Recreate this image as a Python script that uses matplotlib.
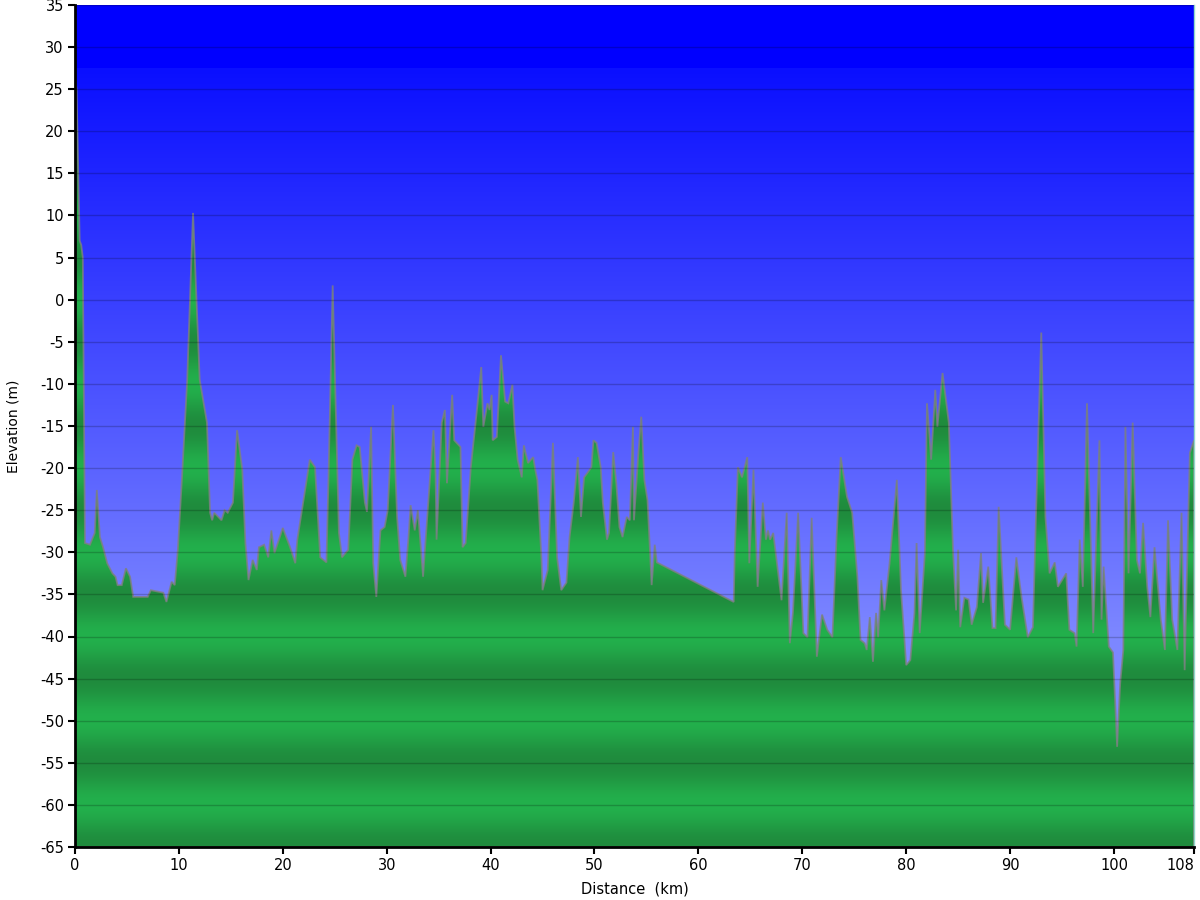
import numpy as np
import matplotlib
matplotlib.use("Agg")
import matplotlib.pyplot as plt
from matplotlib.patches import Polygon

plt.rcParams["axes.unicode_minus"] = False

# elevation profile
dist_km = [
    0.0, 0.15, 0.45, 0.6, 0.75, 0.96, 1.44, 1.9, 2.1, 2.4, 2.7, 3.1, 3.6, 3.9, 4.1, 4.5, 4.9,
    5.3, 5.6, 7.0, 7.3, 8.5, 8.8, 9.3, 9.6, 9.9, 10.3, 10.8, 11.36, 12.0, 12.7, 13.0, 13.2,
    13.4, 14.1, 14.4, 14.7, 15.2, 15.6, 16.1, 16.4, 16.7, 17.1, 17.5, 17.7, 18.2, 18.6, 18.9,
    19.2, 20.0, 20.7, 21.2, 21.4, 22.6, 23.1, 23.6, 24.2, 24.4, 24.8, 25.4, 25.7, 26.3, 26.7,
    27.1, 27.4, 27.9, 28.1, 28.5, 28.7, 29.0, 29.4, 29.8, 30.1, 30.6, 31.0, 31.3, 31.8, 32.1,
    32.3, 32.7, 33.0, 33.5, 34.2, 34.5, 34.7, 34.8, 35.3, 35.6, 35.8, 36.3, 36.5, 37.1, 37.3,
    37.6, 38.1, 38.7, 39.1, 39.3, 39.7, 39.9, 40.1, 40.2, 40.6, 41.0, 41.4, 41.7, 42.1, 42.3,
    42.6, 43.0, 43.2, 43.6, 44.1, 44.3, 44.5, 44.9, 45.0, 45.5, 46.0, 46.4, 46.8, 47.3, 47.6,
    48.0, 48.4, 48.7, 49.0, 49.3, 49.7, 49.9, 50.2, 50.6, 50.8, 51.2, 51.4, 51.8, 52.1, 52.4,
    52.7, 53.1, 53.4, 53.7, 53.8, 54.2, 54.5, 54.8, 55.1, 55.5, 55.8, 56.0, 63.4, 63.5, 63.8,
    64.2, 64.7, 64.9, 65.3, 65.7, 66.2, 66.5, 66.7, 66.9, 67.2, 68.0, 68.5, 68.8, 69.1, 69.6,
    70.1, 70.5, 70.9, 71.4, 71.9, 72.4, 72.9, 73.3, 73.7, 74.3, 74.8, 75.3, 75.6, 76.0, 76.2,
    76.5, 76.8, 77.1, 77.3, 77.6, 77.9, 78.4, 79.1, 79.5, 80.0, 80.4, 80.8, 81.0, 81.3, 81.8,
    82.0, 82.4, 82.8, 83.0, 83.5, 84.1, 84.5, 84.8, 85.0, 85.2, 85.6, 86.0, 86.3, 86.8, 87.2,
    87.4, 87.9, 88.3, 88.6, 88.9, 89.5, 90.0, 90.6, 91.1, 91.7, 92.2, 92.5, 93.0, 93.4, 93.8,
    94.3, 94.6, 95.4, 95.7, 96.2, 96.4, 96.7, 97.0, 97.4, 98.0, 98.6, 98.8, 99.0, 99.5, 99.9,
    100.3, 100.6, 100.9, 101.1, 101.4, 101.8, 102.2, 102.5, 102.8, 103.2, 103.5, 103.9, 104.5,
    104.9, 105.2, 105.6, 106.1, 106.5, 106.8, 107.3, 107.7,
]
elev_m = [
    26.5, 25.0, 7.0, 6.5, 5.0, -28.9, -29.1, -27.7, -22.6, -28.2, -29.4, -31.3, -32.5, -32.9,
    -33.9, -33.9, -31.9, -32.9, -35.3, -35.3, -34.5, -34.8, -35.9, -33.5, -33.9, -29.7, -21.1,
    -9.5, 10.3, -9.5, -14.6, -25.3, -26.2, -25.3, -26.2, -25.0, -25.3, -24.1, -15.5, -20.2,
    -28.9, -33.3, -30.9, -32.1, -29.4, -29.1, -30.6, -27.4, -30.1, -27.1, -29.4, -31.3, -28.5,
    -19.0, -19.9, -30.6, -31.2, -21.1, 1.7, -27.7, -30.6, -29.7, -19.0, -17.3, -17.5, -24.1,
    -25.2, -15.1, -31.3, -35.3, -27.4, -27.0, -25.0, -12.5, -25.8, -30.9, -32.9, -28.2, -24.4,
    -27.4, -25.0, -32.9, -20.6, -15.5, -20.6, -28.5, -14.6, -13.1, -21.8, -11.3, -16.7, -17.5,
    -29.4, -28.9, -19.9, -12.9, -8.0, -15.1, -12.3, -13.1, -11.3, -16.7, -16.3, -6.6, -12.1,
    -12.3, -10.1, -15.1, -19.0, -21.1, -17.3, -19.4, -18.7, -20.2, -21.4, -30.9, -34.5, -32.1,
    -17.0, -30.6, -34.5, -33.6, -28.2, -24.1, -18.7, -25.8, -21.1, -20.6, -19.9, -16.7, -17.0,
    -19.9, -24.1, -28.5, -27.7, -18.1, -21.8, -27.0, -28.2, -25.8, -26.2, -15.1, -26.2, -18.7,
    -13.9, -21.4, -23.8, -33.9, -29.1, -31.2, -35.9, -30.1, -19.9, -21.1, -18.7, -31.3, -20.2,
    -34.1, -24.1, -28.5, -27.4, -28.5, -27.7, -35.7, -25.3, -40.8, -37.2, -25.3, -39.6, -40.1,
    -25.9, -42.4, -37.4, -39.2, -40.1, -28.2, -18.7, -23.4, -25.3, -32.9, -40.4, -40.8, -41.6,
    -37.7, -43.0, -37.2, -40.1, -33.3, -36.9, -31.3, -21.4, -34.5, -43.4, -42.8, -37.2, -28.9,
    -39.6, -30.1, -12.3, -19.0, -10.7, -15.1, -8.7, -14.6, -29.7, -36.9, -29.7, -38.9, -35.4,
    -35.6, -38.6, -36.5, -30.1, -36.0, -31.7, -39.0, -39.0, -24.6, -38.6, -39.2, -30.6, -35.3,
    -40.1, -38.9, -25.3, -3.9, -25.8, -32.5, -31.2, -34.1, -32.5, -39.2, -39.6, -41.2, -28.5,
    -34.1, -12.3, -39.6, -16.7, -38.0, -31.7, -41.2, -41.9, -53.1, -45.5, -41.6, -15.1, -32.5,
    -14.6, -30.9, -32.5, -26.5, -34.1, -37.7, -29.4, -38.0, -41.6, -26.2, -38.0, -41.6, -25.3,
    -44.0, -18.2, -16.7,
]

y_min, y_max = -65, 35
x_max = dist_km[-1]
x_ticks = [0, 10, 20, 30, 40, 50, 60, 70, 80, 90, 100, x_max]
x_tick_labels = ["0", "10", "20", "30", "40", "50", "60", "70", "80", "90", "100", "108"]
y_ticks = list(range(-65, 40, 5))

fig = plt.figure(figsize=(12, 9), dpi=100)
ax = fig.add_axes([75 / 1200, 53 / 900, 1119 / 1200, 842 / 900])

# blue sky gradient: flat blue at the top, lighter further down
yy = np.linspace(y_max, y_min, 600)
top = np.array([10, 15, 255]) / 255
bot = np.array([125, 135, 255]) / 255
frac = np.clip((27.5 - yy) / (27.5 + 40), 0, 1)[:, None]
sky = top + (bot - top) * frac
sky[yy > 27.5] = [0, 0, 1]
ax.imshow(sky[:, None, :], extent=[0, x_max, y_min, y_max], aspect="auto",
          interpolation="nearest", zorder=0)

# banded green, bright on every 10 m and darker in between
band = (1 + np.cos(2 * np.pi * yy / 10)) / 2
bright = np.array([35, 176, 76]) / 255
dark = np.array([31, 139, 61]) / 255
green = dark + (bright - dark) * band[:, None]
im = ax.imshow(green[:, None, :], extent=[0, x_max, y_min, y_max], aspect="auto",
               interpolation="bilinear", zorder=1)

verts = list(zip(dist_km, elev_m)) + [(x_max, y_min), (0, y_min)]
poly = Polygon(verts, closed=True, facecolor="none", edgecolor=(0.5, 0.5, 0.5, 0.8),
               linewidth=1.3, transform=ax.transData, zorder=2)
ax.add_patch(poly)
im.set_clip_path(poly)

for y in y_ticks:
    ax.axhline(y, color="black", alpha=0.2, linewidth=1, zorder=3)

ax.set_xlim(0, x_max)
ax.set_ylim(y_min, y_max)
ax.set_xticks(x_ticks)
ax.set_xticklabels(x_tick_labels)
ax.set_yticks(y_ticks)
ax.tick_params(direction="out", length=5, width=1.5, labelsize=10.5, colors="black", pad=3)
ax.get_xticklabels()[-1].set_horizontalalignment("right")
ax.spines["top"].set_visible(False)
ax.spines["right"].set_color("#8fd8c8")
ax.spines["right"].set_linewidth(1)
ax.spines["left"].set_linewidth(2)
ax.spines["bottom"].set_linewidth(2)

ax.set_xlabel("Distance  (km)", fontsize=10.5, labelpad=6)
ax.set_ylabel("Elevation (m)", fontsize=10, labelpad=14)

fig.savefig("out.png", dpi=100)
